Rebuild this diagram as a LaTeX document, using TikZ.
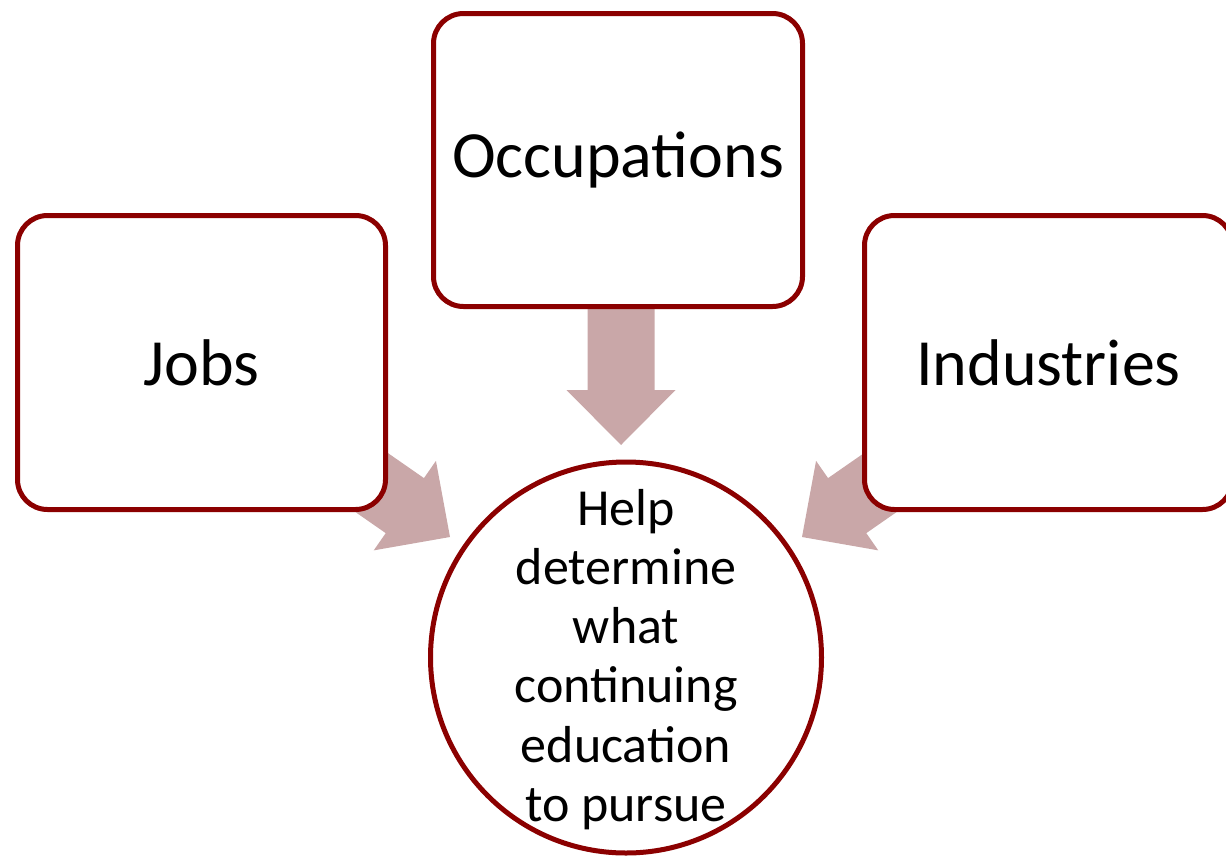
\documentclass[tikz,border=0pt]{standalone}
\usepackage{fontspec}
\setmainfont{Carlito}
\usetikzlibrary{backgrounds}
\definecolor{boxred}{RGB}{139,0,0}
\definecolor{arrowfill}{RGB}{201,167,168}
\tikzset{
  boxnode/.style={draw=boxred, line width=5pt, fill=white, rounded corners=30pt,
    minimum width=368pt, minimum height=294pt, inner sep=0pt,
    font=\fontsize{66}{72}\selectfont},
  circnode/.style={draw=boxred, line width=5pt, fill=white, circle,
    minimum size=391pt, inner sep=0pt},
  circtext/.style={inner sep=0pt, align=center,
    font=\fontsize{52}{59.2}\selectfont},
  blockarrow/.style={fill=arrowfill, draw=none}
}
\newcommand{\blockarr}{(0,0) -- (-55,54.5) -- (-55,33.5) -- (-136,33.5) -- (-136,-33.5) -- (-55,-33.5) -- (-55,-54.5) -- cycle}
\begin{document}
\begin{tikzpicture}[x=1pt,y=-1pt]
\useasboundingbox (0,0) rectangle (1226,857);
\clip (0,0) rectangle (1226,857);
\node[boxnode] (jobs) at (201.5,362.5) {Jobs};
\node[boxnode, minimum height=293pt, minimum width=369pt] (occ) at (618,160) {Occupations};
\node[boxnode] (ind) at (1048.5,362.5) {Industries};
\node[circnode] (help) at (626,657.5) {};
\node[circtext] (helptext) at ([yshift=-2pt]help.center) {Help\\determine\\what\\continuing\\education\\to pursue};
\coordinate (tipdown) at (621,445);
\coordinate (tipleft) at (450,537);
\coordinate (tipright) at (802,537);
\begin{scope}[on background layer]
  \begin{scope}[shift={(tipdown)}, rotate=-90]
    \fill[blockarrow] \blockarr;
  \end{scope}
  \begin{scope}[shift={(tipleft)}, rotate=-34.8]
    \fill[blockarrow] \blockarr;
  \end{scope}
  \begin{scope}[shift={(tipright)}, rotate=-145.2]
    \fill[blockarrow] \blockarr;
  \end{scope}
\end{scope}
\end{tikzpicture}
\end{document}
